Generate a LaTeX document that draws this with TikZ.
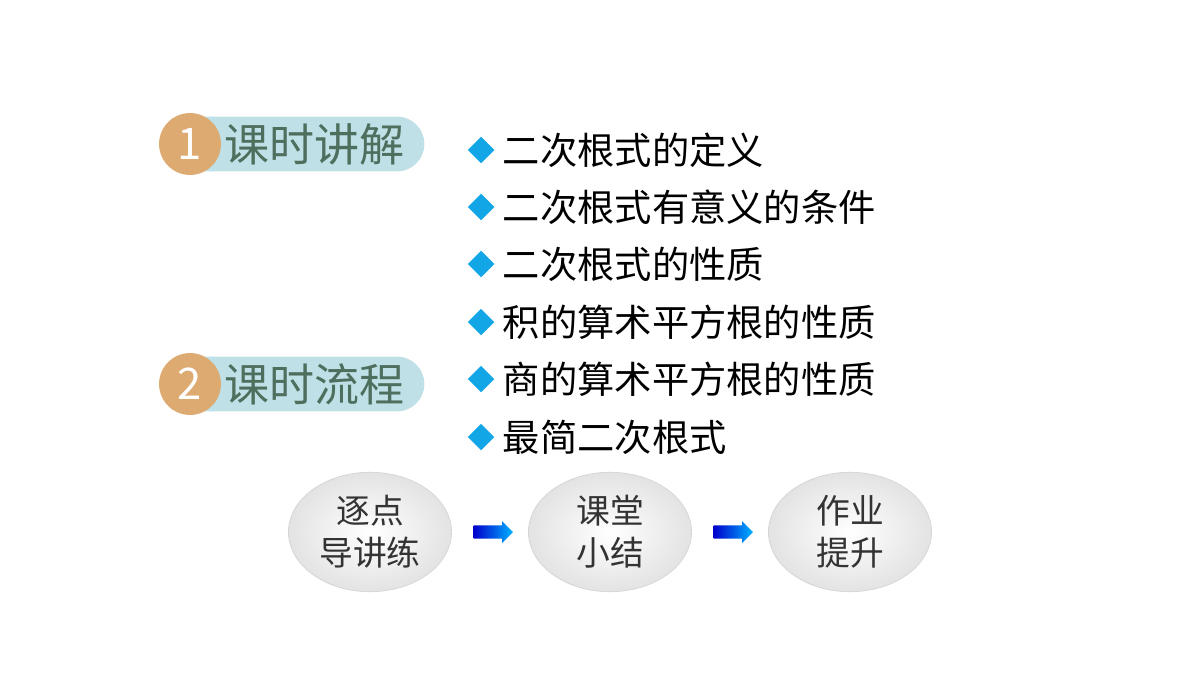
\documentclass[tikz,border=0pt]{standalone}
\usepackage{fontspec}
\setmainfont{Noto Sans CJK SC}
\usetikzlibrary{positioning,calc,shapes.geometric,shapes.arrows}
\definecolor{pillblue}{HTML}{BFE0E6}
\definecolor{badgeorange}{HTML}{DDAA72}
\definecolor{titlegreen}{HTML}{4E6E5E}
\definecolor{diamondblue}{HTML}{12A6E6}
\tikzset{
  pill/.style={fill=pillblue, rounded corners=19.5pt, minimum width=184pt, minimum height=39pt, inner sep=0},
  badge/.style={circle, fill=badgeorange, minimum size=44pt, inner sep=0, text=white, font=\fontsize{31}{31}\selectfont},
  title/.style={text=titlegreen, font=\fontsize{32}{32}\selectfont, anchor=west},
  item/.style={anchor=west, font=\fontsize{26.5}{26.5}\selectfont},
  bullet/.style={diamond, fill=diamondblue, minimum size=19pt, inner sep=0},
  stage/.style={ellipse, draw=gray!35, inner color=white, outer color=gray!22, minimum width=116pt, minimum height=85pt, align=center, text=black!80, font=\fontsize{24}{30}\selectfont},
  flow/.style={single arrow, single arrow head extend=3pt, minimum height=28pt, inner xsep=0pt, inner ysep=4.5pt, draw=none, left color=blue!80!black, right color=cyan!70!blue}
}
\begin{document}
\begin{tikzpicture}[x=0.025cm, y=-0.025cm]
  \useasboundingbox[fill=white] (0,0) rectangle (1200,675);
  % section headers
  \node[pill] (p1) at (295,144) {};
  \node[badge] (b1) at (190,144) {1};
  \node[title] (t1) at (220,144) {课时讲解};
  \node[pill] (p2) at (295,384) {};
  \node[badge] (b2) at (190,384) {2};
  \node[title] (t2) at (220,384) {课时流程};
  % topic list
  \foreach \y/\txt [count=\i] in {150/二次根式的定义, 207/二次根式有意义的条件, 264/二次根式的性质, 322/积的算术平方根的性质, 379/商的算术平方根的性质, 437/最简二次根式}{
    \node[bullet] (d\i) at (481,\y) {};
    \node[item] (l\i) at (498,\y) {\txt};
  }
  % flow
  \node[stage] (s1) at (370,532) {逐点\\导讲练};
  \node[stage] (s2) at (610,532) {课堂\\小结};
  \node[stage] (s3) at (850,532) {作业\\提升};
  \node[flow] (a1) at ($(s1)!0.5!(s2)$) {};
  \node[flow] (a2) at ($(s2)!0.5!(s3)$) {};
\end{tikzpicture}
\end{document}
